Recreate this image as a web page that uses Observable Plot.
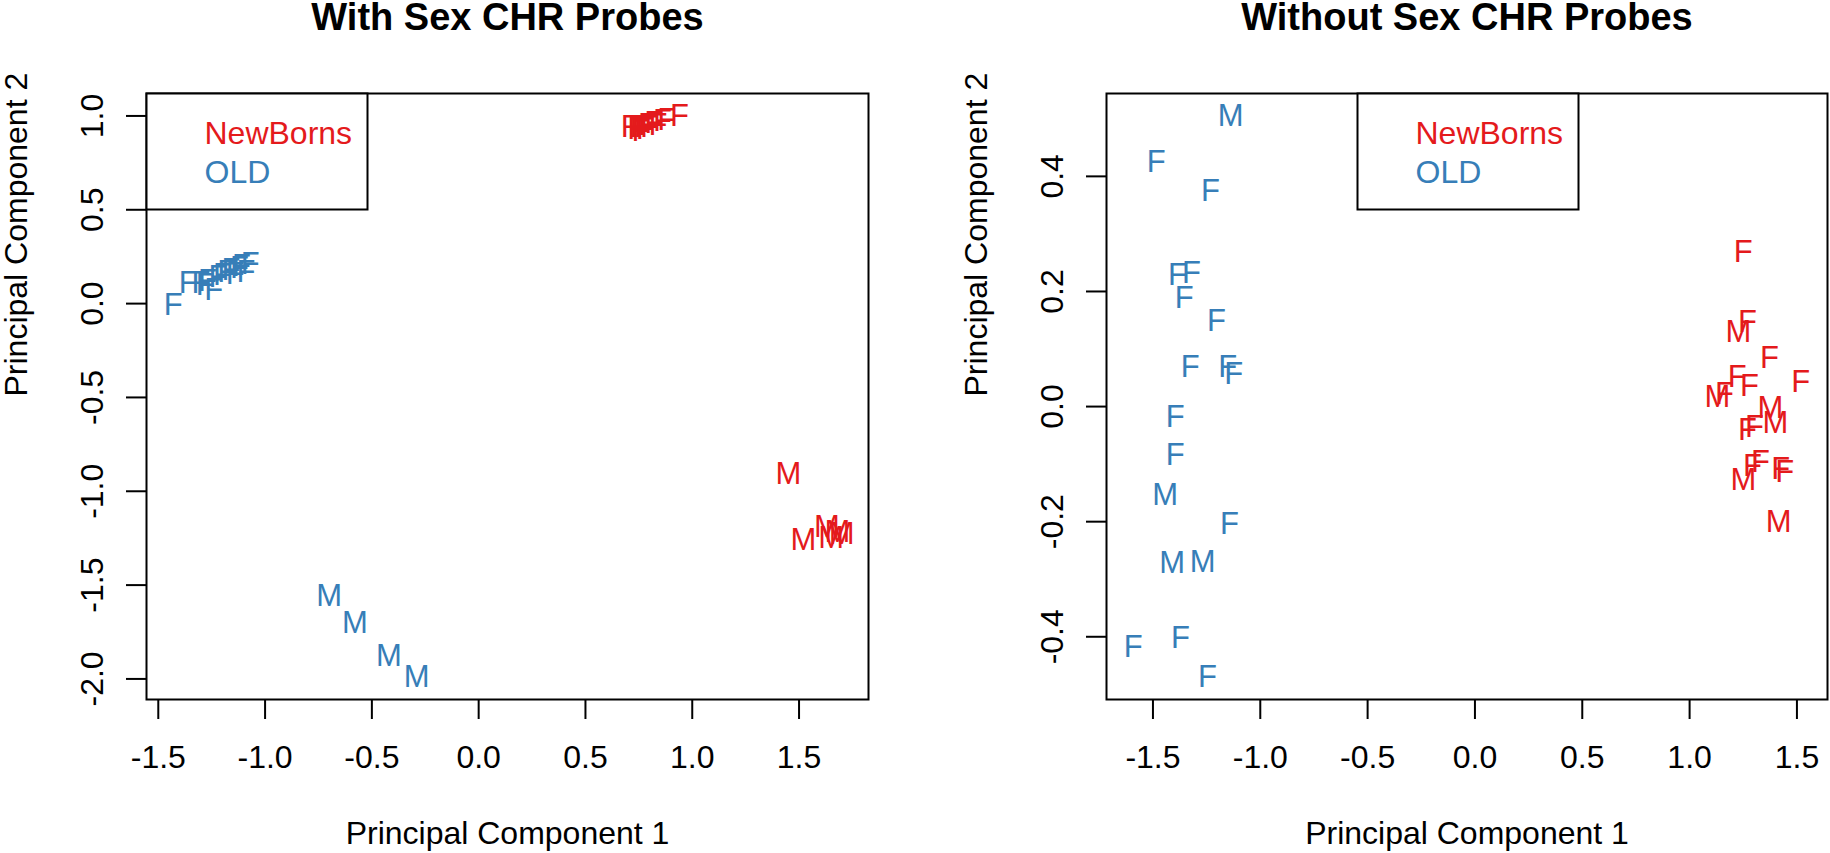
<!DOCTYPE html>
<html>
<head>
<meta charset="utf-8">
<script src="https://cdn.jsdelivr.net/npm/d3@7"></script>
<script src="https://cdn.jsdelivr.net/npm/@observablehq/plot@0.6"></script>
<style>
  html, body { margin: 0; padding: 0; background: #fff; }
  #wrap { position: relative; width: 1830px; height: 853px; overflow: hidden; }
  .panel { position: absolute; top: 0; }
  .legend { position: absolute; }
</style>
</head>
<body>
<div id="wrap"></div>
<script>
// ---------- data ----------
const groups = ["NewBorns", "OLD"];
const groupColors = ["#E41A1C", "#377EB8"];
const titles = ["With Sex CHR Probes", "Without Sex CHR Probes"];
const xTitle = "Principal Component 1";
const yTitle = "Principal Component 2";

// Panel 1: with sex chromosome probes
const withNewX = [0.71, 0.74, 0.75, 0.76, 0.77, 0.78, 0.79, 0.80, 0.82, 0.84, 0.86, 0.88, 0.94, 1.45, 1.52, 1.63, 1.65, 1.68, 1.70];
const withNewY = [0.94, 0.93, 0.94, 0.92, 0.94, 0.93, 0.95, 0.94, 0.96, 0.95, 0.97, 0.98, 1.00, -0.91, -1.26, -1.19, -1.25, -1.22, -1.23];
const withNewSex = ["F","F","F","F","F","F","F","F","F","F","F","F","F","M","M","M","M","M","M"];
const withOldX = [-1.43, -1.36, -1.30, -1.28, -1.27, -1.24, -1.22, -1.20, -1.18, -1.16, -1.14, -1.12, -1.11, -1.09, -1.07, -0.70, -0.58, -0.42, -0.29];
const withOldY = [-0.01, 0.11, 0.11, 0.10, 0.12, 0.07, 0.14, 0.15, 0.17, 0.18, 0.16, 0.19, 0.20, 0.17, 0.21, -1.56, -1.70, -1.88, -1.99];
const withOldSex = ["F","F","F","F","F","F","F","F","F","F","F","F","F","F","F","M","M","M","M"];

// Panel 2: without sex chromosome probes
const withoutNewX = [1.25, 1.227, 1.269, 1.372, 1.222, 1.279, 1.129, 1.162, 1.518, 1.377, 1.400, 1.269, 1.302, 1.293, 1.330, 1.251, 1.424, 1.443, 1.415];
const withoutNewY = [0.269, 0.130, 0.147, 0.085, 0.052, 0.035, 0.017, 0.021, 0.042, -0.002, -0.028, -0.040, -0.036, -0.104, -0.097, -0.127, -0.109, -0.114, -0.201];
const withoutNewSex = ["F","M","F","F","F","F","M","F","F","M","M","F","F","F","F","M","F","F","M"];
const withoutOldX = [-1.138, -1.485, -1.232, -1.386, -1.321, -1.354, -1.204, -1.326, -1.152, -1.124, -1.396, -1.396, -1.443, -1.143, -1.410, -1.269, -1.592, -1.372, -1.246];
const withoutOldY = [0.505, 0.425, 0.375, 0.229, 0.232, 0.189, 0.149, 0.069, 0.069, 0.056, -0.019, -0.085, -0.154, -0.205, -0.272, -0.271, -0.418, -0.402, -0.470];
const withoutOldSex = ["M","F","F","F","F","F","F","F","F","F","F","F","M","F","M","M","F","F","F"];

// tick values
const xTicks = [-1.5, -1.0, -0.5, 0.0, 0.5, 1.0, 1.5];
const yTicksWith = [-2.0, -1.5, -1.0, -0.5, 0.0, 0.5, 1.0];
const yTicksWithout = [-0.4, -0.2, 0.0, 0.2, 0.4];

// ---------- helpers ----------
const FONT = "'Liberation Sans', Arial, Helvetica, sans-serif";
const fmt = d => d.toFixed(1);

function rows(xs, ys, sexes, g) {
  return xs.map((x, i) => ({x, y: ys[i], sex: sexes[i], group: g}));
}
function rDomain(vals) { // R-style 4% padding
  const [lo, hi] = d3.extent(vals);
  const pad = (hi - lo) * 0.04;
  return [lo - pad, hi + pad];
}

function panel(data, yTicks, title, margins, legendPos) {
  const plot = Plot.plot({
    width: 915,
    height: 853,
    marginLeft: margins.left,
    marginRight: margins.right,
    marginTop: 93,
    marginBottom: 154,
    style: {fontFamily: FONT, fontSize: "32px", color: "black", background: "white", overflow: "visible"},
    x: {domain: rDomain(data.map(d => d.x)), axis: null},
    y: {domain: rDomain(data.map(d => d.y)), axis: null},
    color: {domain: groups, range: groupColors},
    marks: [
      Plot.axisX(xTicks, {tickSize: 20, tickPadding: 26, fontSize: 32, strokeWidth: 2, tickFormat: fmt, label: null}),
      Plot.axisY(yTicks, {tickSize: 20, tickPadding: 24, fontSize: 32, strokeWidth: 2, tickRotate: -90, tickFormat: fmt, label: null}),
      Plot.text(data, {x: "x", y: "y", text: "sex", fill: "group", fontSize: 31, fontFamily: FONT}),
      Plot.frame({stroke: "black", strokeWidth: 2}),
      Plot.text([title], {text: d => d, frameAnchor: "top", dy: -64, lineAnchor: "bottom", fontSize: 38, fontWeight: "bold", fill: "black"}),
      Plot.text([xTitle], {text: d => d, frameAnchor: "bottom", dy: 144, lineAnchor: "bottom", fontSize: 32, fill: "black"}),
      Plot.text([yTitle], {text: d => d, frameAnchor: "left", dx: -120, rotate: -90, lineAnchor: "bottom", fontSize: 32, fill: "black"})
    ]
  });
  return plot;
}

function legend() {
  return Plot.plot({
    width: 221,
    height: 116,
    margin: 0,
    style: {fontFamily: FONT, background: "white", overflow: "visible"},
    x: {domain: [0, 1], axis: null},
    y: {domain: [0, 1], axis: null},
    marks: [
      Plot.frame({stroke: "black", strokeWidth: 2}),
      Plot.text([groups[0]], {text: d => d, frameAnchor: "top-left", dx: 58, dy: 50, lineAnchor: "bottom", textAnchor: "start", fontSize: 32, fill: groupColors[0]}),
      Plot.text([groups[1]], {text: d => d, frameAnchor: "top-left", dx: 58, dy: 89, lineAnchor: "bottom", textAnchor: "start", fontSize: 32, fill: groupColors[1]})
    ]
  });
}

const wrap = document.getElementById("wrap");

const dataWith = rows(withNewX, withNewY, withNewSex, groups[0]).concat(rows(withOldX, withOldY, withOldSex, groups[1]));
const dataWithout = rows(withoutNewX, withoutNewY, withoutNewSex, groups[0]).concat(rows(withoutOldX, withoutOldY, withoutOldSex, groups[1]));

const p1 = panel(dataWith, yTicksWith, titles[0], {left: 146, right: 47});
p1.classList.add("panel"); p1.style.left = "0px";
wrap.appendChild(p1);

const p2 = panel(dataWithout, yTicksWithout, titles[1], {left: 191, right: 3});
p2.classList.add("panel"); p2.style.left = "915px";
wrap.appendChild(p2);

const l1 = legend();
l1.classList.add("legend"); l1.style.left = "146px"; l1.style.top = "93px";
wrap.appendChild(l1);

const l2 = legend();
l2.classList.add("legend"); l2.style.left = (915 + 442) + "px"; l2.style.top = "93px";
wrap.appendChild(l2);
</script>
</body>
</html>
